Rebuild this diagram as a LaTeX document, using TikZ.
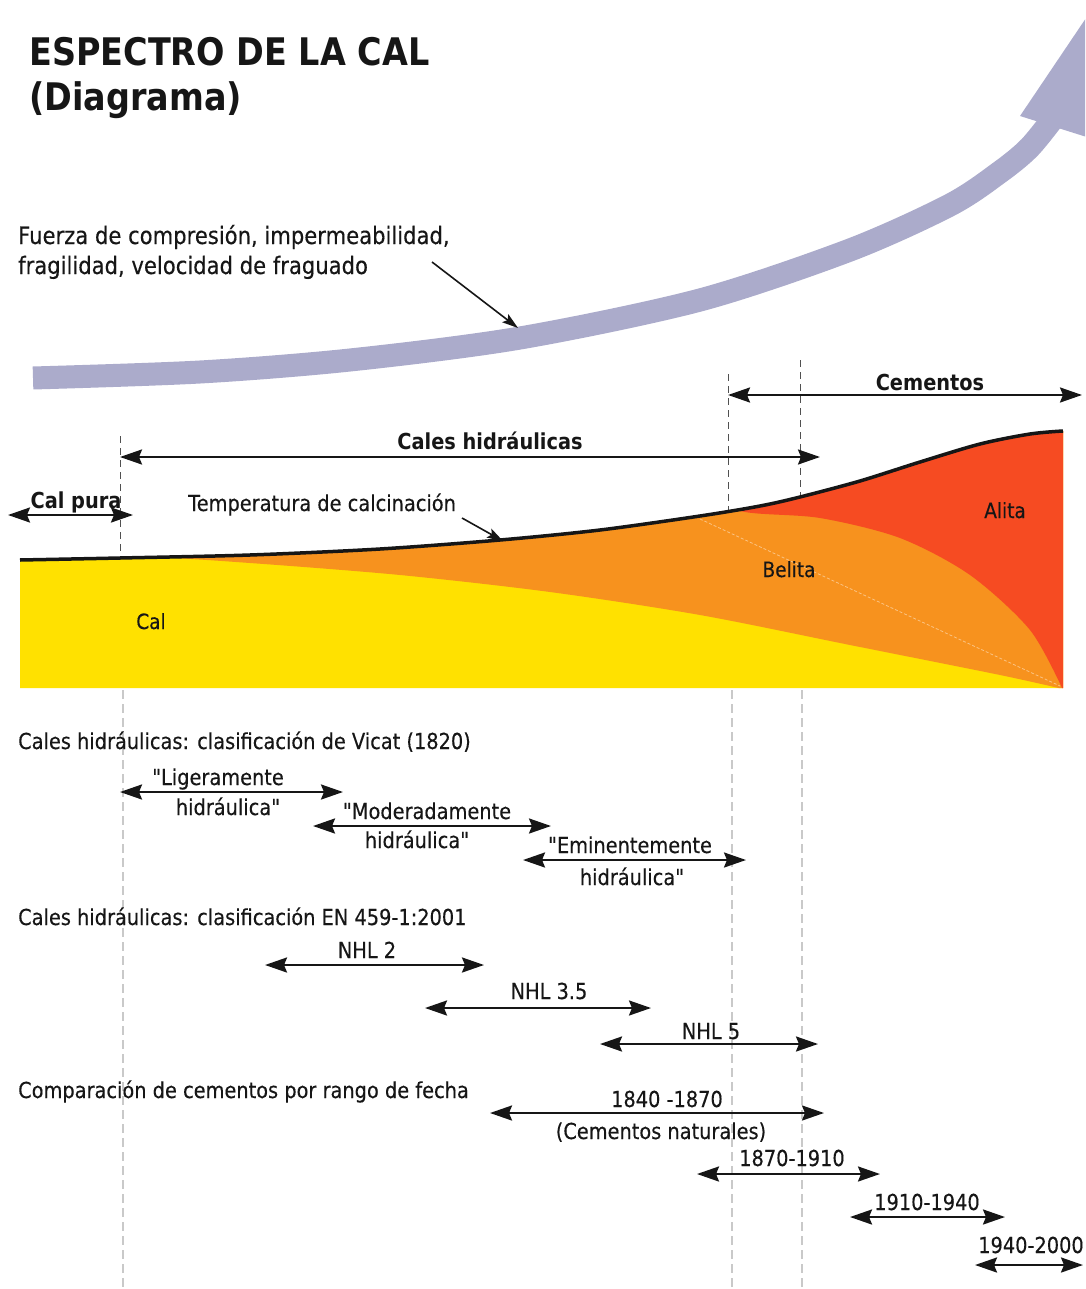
\documentclass[tikz,border=0pt]{standalone}
\usepackage{fontspec}
\setmainfont{DejaVu Sans}[FakeStretch=0.88, Ligatures=TeXOff, UprightFeatures={FakeBold=0.3}]
\usetikzlibrary{arrows.meta}

\definecolor{ink}{HTML}{161616}
\definecolor{lav}{HTML}{ABABCB}
\definecolor{calyel}{HTML}{FFE100}
\definecolor{belor}{HTML}{F7921E}
\definecolor{alred}{HTML}{F64B22}
\definecolor{guide}{HTML}{C9C9C9}

\tikzset{
  txt/.style={inner sep=0pt, text=ink, font=\fontsize{22}{26}\selectfont},
  lbl/.style={txt, anchor=base},
  hdr/.style={txt, anchor=base west},
  boldlbl/.style={lbl, font=\fontsize{22}{26}\selectfont\bfseries},
  zone/.style={lbl, font=\fontsize{21}{25}\selectfont},
  spanarrow/.style={draw=ink, line width=2.4pt,
    {Stealth[length=22pt,width=15pt,inset=3pt]}-{Stealth[length=22pt,width=15pt,inset=3pt]}},
  pointer/.style={draw=ink, line width=1.6pt, -{Stealth[length=16pt,width=10pt,inset=3pt]}},
  guideup/.style={draw=ink!75, line width=0.8pt, dash pattern=on 7pt off 5pt},
  guidelow/.style={draw=guide, line width=2pt, dash pattern=on 9pt off 5pt},
}

% double-headed range arrow between two named end points
\newcommand\rangearrow[4]{%
  \coordinate (#1-l) at (#2,#4);
  \coordinate (#1-r) at (#3,#4);
  \draw[spanarrow] (#1-l) -- (#1-r);}

\begin{document}
\begin{tikzpicture}[x=1pt, y=-1pt]
\useasboundingbox (0,0) rectangle (1085,1289);
\clip (0,0) rectangle (1085,1289);

% ---- title
\node[txt, anchor=base west, font=\fontsize{38}{44}\selectfont\bfseries] (title1) at (29,66) {ESPECTRO DE LA CAL};
\node[txt, anchor=base west, font=\fontsize{38}{44}\selectfont\bfseries] (title2) at (29,111) {(Diagrama)};

% ---- property trend band with its arrow head
\draw[lav, line width=23pt] plot[smooth] coordinates {(33,378) (200,372) (350,360) (520,338) (700,300) (850,250) (950,205) (1000,172) (1030,147) (1058,112)};
\fill[lav] (1020,116) -- (1115,-25) -- (1112,145) -- cycle;

\node[txt, anchor=base west, font=\fontsize{24}{28}\selectfont] (force1) at (18,244) {Fuerza de compresión, impermeabilidad,};
\node[txt, anchor=base west, font=\fontsize{24}{28}\selectfont] (force2) at (18,274) {fragilidad, velocidad de fraguado};
\coordinate (forcetip) at (518,328);
\coordinate (forcetail) at (432,262);
\draw[pointer] (forcetail) -- (forcetip);

% ---- vertical guide lines
\coordinate (g1a) at (120,436); \coordinate (g1b) at (120,558);
\coordinate (g2a) at (728,374); \coordinate (g2b) at (728,512);
\coordinate (g3a) at (800,360); \coordinate (g3b) at (800,495);
\draw[guideup] (g1a) -- (g1b);
\draw[guideup] (g2a) -- (g2b);
\draw[guideup] (g3a) -- (g3b);
\coordinate (h1a) at (123,690); \coordinate (h1b) at (123,1289);
\coordinate (h2a) at (732,690); \coordinate (h2b) at (732,1289);
\coordinate (h3a) at (802,690); \coordinate (h3b) at (802,1289);
\draw[guidelow] (h1a) -- (h1b);
\draw[guidelow] (h2a) -- (h2b);
\draw[guidelow] (h3a) -- (h3b);

% ---- range arrows over the chart
\rangearrow{cem}{728}{1082}{395}
\node[boldlbl] (cementos) at (930,390) {Cementos};
\rangearrow{hid}{120}{820}{457}
\node[boldlbl] (cales) at (490,449) {Cales hidráulicas};
\rangearrow{pura}{8}{133}{515}
\node[boldlbl] (calpura) at (76,508) {Cal pura};

% ---- composition chart
\begin{scope}
  \clip plot[smooth] coordinates {(20,560) (120,558) (250,555) (380,549) (500,540) (600,530) (700,516) (760,506) (800,497) (860,481) (920,462) (980,444) (1030,434) (1063,431)} -- (1063,688) -- (20,688) -- cycle;
  \fill[calyel] (0,380) rectangle (1100,700);
  \fill[belor] plot[smooth] coordinates {(20,555) (150,557) (250,563) (400,575) (550,592) (700,615) (850,645) (1000,675) (1063,689)} -- (1100,700) -- (1100,380) -- (20,380) -- cycle;
  \fill[alred] plot[smooth] coordinates {(690,495) (745,512) (820,518) (900,538) (970,575) (1030,630) (1063,690)} -- (1100,700) -- (1100,380) -- (690,380) -- cycle;
  \draw[white, opacity=0.45, line width=0.8pt, dash pattern=on 3pt off 2pt] (700,519) -- (1060,686);
\end{scope}
\draw[ink, line width=3.5pt] plot[smooth] coordinates {(20,560) (120,558) (250,555) (380,549) (500,540) (600,530) (700,516) (760,506) (800,497) (860,481) (920,462) (980,444) (1030,434) (1063,431)};

\node[txt, anchor=base west] (temp) at (188,511) {Temperatura de calcinación};
\coordinate (temptail) at (462,518);
\coordinate (temptip) at (503,541);
\draw[pointer] (temptail) -- (temptip);

\node[zone] (alita) at (1005,518) {Alita};
\node[zone] (belita) at (789,577) {Belita};
\node[zone] (cal) at (151,629) {Cal};

% ---- Vicat classification
\node[hdr] (vicat) at (18,749) {Cales hidráulicas: clasificación de Vicat (1820)};
\rangearrow{lig}{120}{343}{792}
\node[lbl] (lig1) at (218,785) {"Ligeramente};
\node[lbl] (lig2) at (228,815) {hidráulica"};
\rangearrow{mod}{313}{551}{826}
\node[lbl] (mod1) at (427,819) {"Moderadamente};
\node[lbl] (mod2) at (417,848) {hidráulica"};
\rangearrow{emi}{523}{746}{860}
\node[lbl] (emi1) at (630,853) {"Eminentemente};
\node[lbl] (emi2) at (632,885) {hidráulica"};

% ---- EN 459-1 classification
\node[hdr] (en) at (18,925) {Cales hidráulicas: clasificación EN 459-1:2001};
\rangearrow{nhla}{265}{484}{965}
\node[lbl] (nhl2) at (367,958) {NHL 2};
\rangearrow{nhlb}{425}{651}{1008}
\node[lbl] (nhl35) at (549,999) {NHL 3.5};
\rangearrow{nhlc}{600}{818}{1044}
\node[lbl] (nhl5) at (711,1039) {NHL 5};

% ---- cement dates
\node[hdr] (fechas) at (18,1098) {Comparación de cementos por rango de fecha};
\rangearrow{da}{490}{824}{1113}
\node[lbl] (d1840) at (667,1107) {1840 -1870};
\node[lbl] (dnat) at (661,1139) {(Cementos naturales)};
\rangearrow{db}{697}{880}{1174}
\node[lbl] (d1870) at (792,1166) {1870-1910};
\rangearrow{dc}{850}{1005}{1217}
\node[lbl] (d1910) at (927,1210) {1910-1940};
\rangearrow{dd}{975}{1083}{1265}
\node[lbl] (d1940) at (1031,1253) {1940-2000};
\end{tikzpicture}
\end{document}
